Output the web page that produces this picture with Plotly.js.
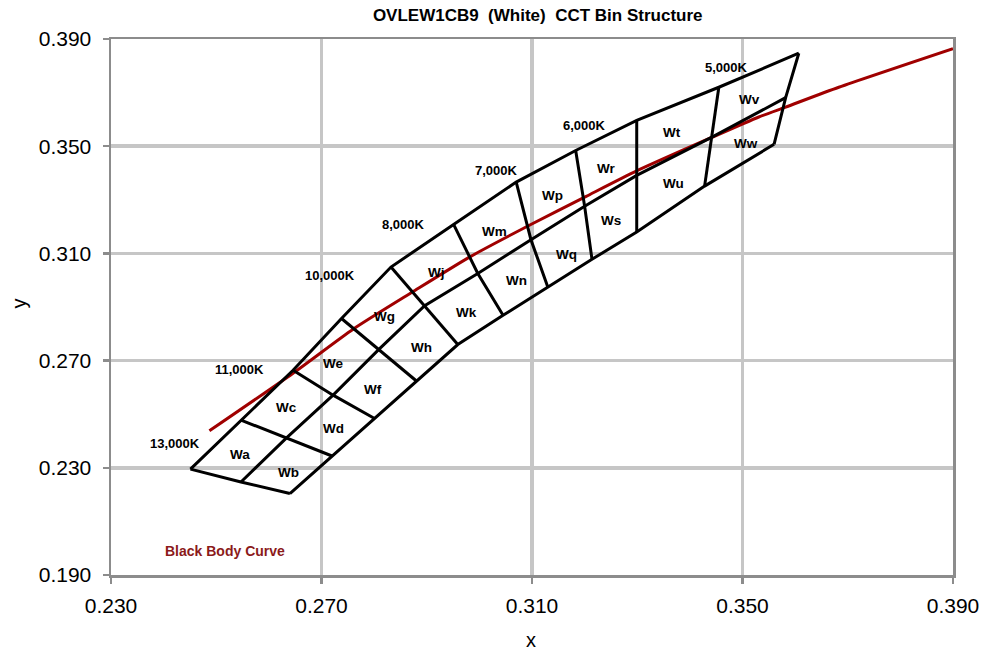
<!DOCTYPE html>
<html><head><meta charset="utf-8">
<script src="https://cdn.plot.ly/plotly-3.0.1.min.js"></script>
<style>html,body{margin:0;padding:0;background:#fff}#c{width:983px;height:652px}</style>
</head><body><div id="c"></div>
<script>
// Bin grid vertices along the top edge, middle line and bottom edge (CIE x, y)
var topX = [0.2451, 0.2547, 0.2646, 0.2738, 0.2832, 0.2951, 0.3070, 0.3183, 0.3299, 0.3455, 0.3607];
var topY = [0.2295, 0.2478, 0.2664, 0.2857, 0.3049, 0.3208, 0.3366, 0.3484, 0.3596, 0.3720, 0.3847];
var midX = [0.2547, 0.2633, 0.2722, 0.2809, 0.2896, 0.2997, 0.3098, 0.3200, 0.3299, 0.3442, 0.3582];
var midY = [0.2247, 0.2411, 0.2571, 0.2742, 0.2905, 0.3025, 0.3151, 0.3276, 0.3391, 0.3534, 0.3681];
var botX = [0.2640, 0.2720, 0.2800, 0.2881, 0.2959, 0.3045, 0.3130, 0.3214, 0.3299, 0.3428, 0.3560];
var botY = [0.2204, 0.2344, 0.2485, 0.2623, 0.2760, 0.2869, 0.2975, 0.3078, 0.3180, 0.3351, 0.3507];

// Black body curve
var bbX = [0.2487, 0.2646, 0.2760, 0.2873, 0.2982, 0.3095, 0.3203, 0.3298, 0.3443, 0.3531, 0.3582, 0.3683, 0.3900];
var bbY = [0.2438, 0.2653, 0.2817, 0.2956, 0.3087, 0.3205, 0.3313, 0.3407, 0.3534, 0.3609, 0.3646, 0.3720, 0.3864];

// CCT labels
var cctText = ["13,000K", "11,000K", "10,000K", "8,000K", "7,000K", "6,000K", "5,000K"];
var cctX = [0.2422, 0.2545, 0.2716, 0.2856, 0.3032, 0.3200, 0.3469];
var cctY = [0.2392, 0.2667, 0.3018, 0.3208, 0.3410, 0.3578, 0.3793];

// Bin labels
var binText = ["Wa","Wb","Wc","Wd","We","Wf","Wg","Wh","Wj","Wk","Wm","Wn","Wp","Wq","Wr","Ws","Wt","Wu","Wv","Ww"];
var binX = [0.2546,0.2637,0.2633,0.2722,0.2722,0.2798,0.2820,0.2890,0.2918,0.2975,0.3029,0.3070,0.3139,0.3165,0.3241,0.3250,0.3366,0.3369,0.3514,0.3506];
var binY = [0.2351,0.2281,0.2525,0.2447,0.2689,0.2592,0.2866,0.2749,0.3027,0.2878,0.3180,0.3000,0.3317,0.3097,0.3416,0.3223,0.3553,0.3362,0.3673,0.3509];

var tickVals = [0.23, 0.27, 0.31, 0.35, 0.39];
var tickText = ["0.230", "0.270", "0.310", "0.350", "0.390"];
var yTickVals = [0.19, 0.23, 0.27, 0.31, 0.35, 0.39];
var yTickText = ["0.190", "0.230", "0.270", "0.310", "0.350", "0.390"];

// build grid polyline with gaps
var gx = [], gy = [];
function addLine(xs, ys){ for (var i=0;i<xs.length;i++){gx.push(xs[i]); gy.push(ys[i]);} gx.push(null); gy.push(null); }
addLine(topX, topY); addLine(midX, midY); addLine(botX, botY);
for (var i=0;i<topX.length;i++){ addLine([topX[i], midX[i], botX[i]], [topY[i], midY[i], botY[i]]); }

var FONT = "Arial, 'Liberation Sans', sans-serif";
var traces = [
  {x: bbX, y: bbY, mode: "lines", line: {color: "#a00000", width: 3, shape: "spline", smoothing: 0.6}, hoverinfo: "skip"},
  {x: gx, y: gy, mode: "lines", line: {color: "#000000", width: 3}, connectgaps: false, hoverinfo: "skip"}
];

var ann = [];
for (var i=0;i<cctText.length;i++){
  ann.push({x: cctX[i], y: cctY[i], text: "<b>"+cctText[i]+"</b>", showarrow: false, font: {family: FONT, size: 13, color: "#000"}});
}
for (var i=0;i<binText.length;i++){
  ann.push({x: binX[i], y: binY[i], text: "<b>"+binText[i]+"</b>", showarrow: false, font: {family: FONT, size: 13.5, color: "#000"}});
}
ann.push({x: 0.2517, y: 0.1991, text: "<b>Black Body Curve</b>", showarrow: false, font: {family: FONT, size: 14, color: "#8b1a1a"}});
// axis titles placed explicitly
ann.push({xref: "paper", yref: "paper", x: 0.4985, y: -0.121, xanchor: "center", yanchor: "middle", text: "x", showarrow: false, font: {family: FONT, size: 20, color: "#000"}});
ann.push({xref: "paper", yref: "paper", x: -0.1095, y: 0.506, xanchor: "center", yanchor: "middle", text: "y", textangle: -90, showarrow: false, font: {family: FONT, size: 20, color: "#000"}});

var axisCommon = {
  showgrid: true, gridcolor: "#c6c6c6", gridwidth: 3.5,
  showline: true, linecolor: "#8c8c8c", linewidth: 2.5, mirror: true,
  ticks: "outside", ticklen: 6, tickwidth: 2.5, tickcolor: "#8c8c8c",
  zeroline: false, tickfont: {family: FONT, size: 21, color: "#000"}
};

var layout = {
  width: 983, height: 652,
  margin: {l: 111, r: 30, t: 39, b: 77},
  paper_bgcolor: "#fff", plot_bgcolor: "#fff",
  showlegend: false,
  title: {text: "<b>OVLEW1CB9&nbsp; (White)&nbsp; CCT Bin Structure</b>", x: 0.547, xanchor: "center", y: 0.977, yanchor: "middle",
          font: {family: FONT, size: 17, color: "#000"}},
  xaxis: Object.assign({}, axisCommon, {range: [0.23, 0.39], tickvals: tickVals, ticktext: tickText, ticklabelstandoff: 4}),
  yaxis: Object.assign({}, axisCommon, {range: [0.19, 0.39], tickvals: yTickVals, ticktext: yTickText, ticklabelstandoff: 7}),
  annotations: ann
};

Plotly.newPlot("c", traces, layout, {displayModeBar: false, staticPlot: true});
</script></body></html>
